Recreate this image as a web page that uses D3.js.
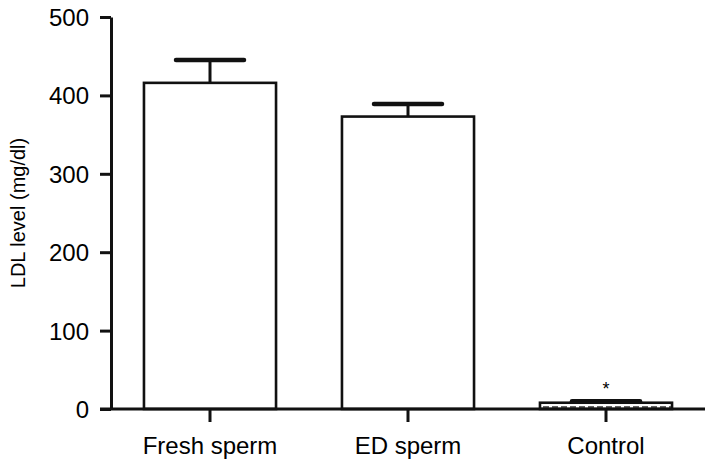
<!DOCTYPE html>
<html>
<head>
<meta charset="utf-8">
<script src="https://cdn.jsdelivr.net/npm/d3@7"></script>
<style>
  body { margin: 0; background: #fff; }
  text { font-family: "Liberation Sans", Arial, sans-serif; fill: #000; }
</style>
</head>
<body>
<div class="chart"></div>
<script>
var svgWidth = 714;
var svgHeight = 468;

var margin = { top: 17, right: 9, bottom: 59, left: 111 };
var width = svgWidth - margin.left - margin.right;
var height = svgHeight - margin.top - margin.bottom;

// data
var groups = ["Fresh sperm", "ED sperm", "Control"];
var means = [416, 373, 8];
var errors = [29, 16, 2];
var marks = ["", "", "*"];
var yTicks = [0, 100, 200, 300, 400, 500];

var svg = d3.select(".chart")
  .append("svg")
  .attr("width", svgWidth)
  .attr("height", svgHeight);

var chartGroup = svg.append("g")
  .attr("transform", `translate(${margin.left}, ${margin.top})`);

var xBandScale = d3.scaleBand()
  .domain(groups)
  .range([0, width])
  .paddingInner(0.333)
  .paddingOuter(0.1665);

var yLinearScale = d3.scaleLinear()
  .domain([0, 500])
  .range([height, 0]);

// pattern for the control bar
var defs = svg.append("defs");
var pat = defs.append("pattern")
  .attr("id", "dash")
  .attr("patternUnits", "userSpaceOnUse")
  .attr("width", 9)
  .attr("height", 4);
pat.append("rect").attr("width", 9).attr("height", 4).attr("fill", "#fff");
pat.append("line")
  .attr("x1", 0).attr("x2", 6).attr("y1", 2).attr("y2", 2)
  .attr("stroke", "#333").attr("stroke-width", 1.5);

// error bars first so the bar tops sit over them
var errGroup = chartGroup.selectAll(".err")
  .data(groups)
  .enter()
  .append("g")
  .attr("class", "err");

errGroup.append("line")
  .attr("x1", d => xBandScale(d) + xBandScale.bandwidth() / 2)
  .attr("x2", d => xBandScale(d) + xBandScale.bandwidth() / 2)
  .attr("y1", (d, i) => yLinearScale(means[i]))
  .attr("y2", (d, i) => yLinearScale(means[i] + errors[i]))
  .attr("stroke", "#111")
  .attr("stroke-width", 3);

errGroup.append("line")
  .attr("x1", d => xBandScale(d) + xBandScale.bandwidth() / 2 - 34)
  .attr("x2", d => xBandScale(d) + xBandScale.bandwidth() / 2 + 34)
  .attr("y1", (d, i) => yLinearScale(means[i] + errors[i]))
  .attr("y2", (d, i) => yLinearScale(means[i] + errors[i]))
  .attr("stroke", "#111")
  .attr("stroke-width", 4.5)
  .attr("stroke-linecap", "round");

chartGroup.selectAll(".bar")
  .data(groups)
  .enter()
  .append("rect")
  .attr("class", "bar")
  .attr("x", d => xBandScale(d))
  .attr("y", (d, i) => yLinearScale(means[i]))
  .attr("width", xBandScale.bandwidth())
  .attr("height", (d, i) => height - yLinearScale(means[i]))
  .attr("fill", (d, i) => i === 2 ? "url(#dash)" : "#fff")
  .attr("stroke", "#111")
  .attr("stroke-width", 2.6);

// significance star
chartGroup.selectAll(".star")
  .data(groups)
  .enter()
  .append("text")
  .attr("x", d => xBandScale(d) + xBandScale.bandwidth() / 2)
  .attr("y", (d, i) => yLinearScale(means[i] + errors[i]) - 6)
  .attr("text-anchor", "middle")
  .style("font-size", "18px")
  .text((d, i) => marks[i]);

// axes
var leftAxis = d3.axisLeft(yLinearScale)
  .tickValues(yTicks)
  .tickSize(11)
  .tickSizeOuter(0)
  .tickPadding(11);

var yAxis = chartGroup.append("g")
  .call(leftAxis);
yAxis.select(".domain").attr("stroke-width", 3).attr("stroke", "#111");
yAxis.selectAll(".tick line").attr("stroke-width", 3).attr("stroke", "#111");
yAxis.selectAll("text")
  .style("font-size", "24px")
  .attr("dy", "0.35em");

var bottomAxis = d3.axisBottom(xBandScale)
  .tickSize(13)
  .tickSizeOuter(0)
  .tickPadding(15);

var xAxis = chartGroup.append("g")
  .attr("transform", `translate(0, ${height})`)
  .call(bottomAxis);
xAxis.select(".domain").remove();
xAxis.append("line")
  .attr("x1", -11)
  .attr("x2", width)
  .attr("stroke", "#111")
  .attr("stroke-width", 3);
xAxis.selectAll(".tick line").attr("stroke-width", 3).attr("stroke", "#111");
xAxis.selectAll("text")
  .style("font-size", "24px");

// y label
chartGroup.append("text")
  .attr("transform", `translate(${-86}, ${height / 2}) rotate(-90)`)
  .attr("text-anchor", "middle")
  .style("font-size", "20px")
  .text("LDL level (mg/dl)");
</script>
</body>
</html>
